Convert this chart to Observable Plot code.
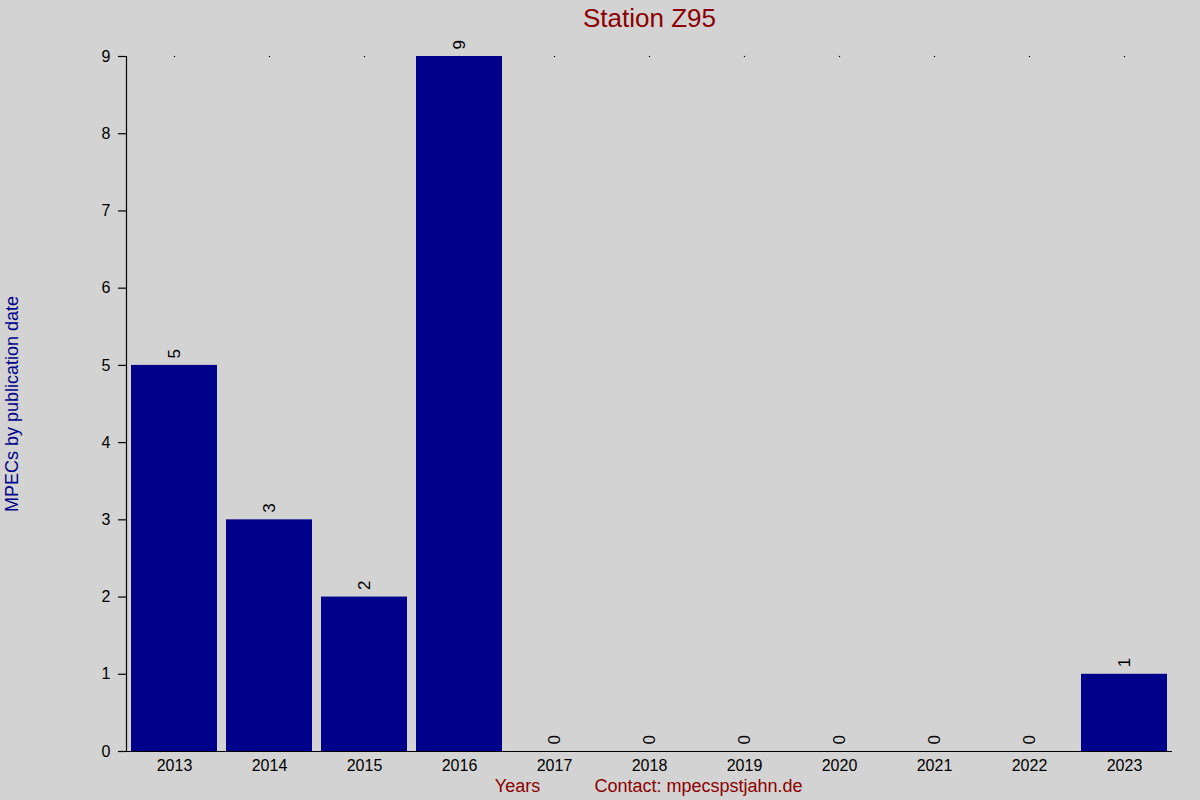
<!DOCTYPE html>
<html><head><meta charset="utf-8">
<script src="https://cdn.jsdelivr.net/npm/d3@7"></script>
<script src="https://cdn.jsdelivr.net/npm/@observablehq/plot@0.6"></script>
<style>body{margin:0;background:#d3d3d3;} svg{display:block}</style>
</head><body><div id="chart"></div><script>
const years = ["2013","2014","2015","2016","2017","2018","2019","2020","2021","2022","2023"];
const counts = [5,3,2,9,0,0,0,0,0,0,1];
const yTicks = [0,1,2,3,4,5,6,7,8,9];
const title = "Station Z95";
const yLabel = "MPECs by publication date";
const xLabel = "Years";
const contact = "Contact: mpecspstjahn.de";
const data = years.map((y, i) => ({year: y, count: counts[i]}));
const font = "'Liberation Sans', Arial, sans-serif";
const chart = Plot.plot({
  width: 1200, height: 800,
  marginLeft: 126, marginRight: 28, marginTop: 56, marginBottom: 49,
  style: {background: "#d3d3d3", fontFamily: font, fontSize: "16px", color: "black"},
  x: {domain: years, paddingInner: 0.1, paddingOuter: 0.05, label: null},
  y: {domain: [0, 9], label: null},
  marks: [
    Plot.dot(years, {x: d => d, y: () => 9, r: 0.7, fill: "black", stroke: null}),
    Plot.barY(data, {x: "year", y: "count", fill: "#00008b"}),
    Plot.frame({anchor: "left", stroke: "black", strokeWidth: 1.2}),
    Plot.ruleY([0], {stroke: "black", strokeWidth: 1.2}),
    Plot.axisX({tickSize: 0, tickPadding: 8, label: null, fontSize: 16}),
    Plot.axisY({ticks: yTicks, tickSize: 8, tickPadding: 8, label: null, fontSize: 16, strokeWidth: 1.2}),
    Plot.text(data, {x: "year", y: "count", text: d => String(d.count), rotate: -90, textAnchor: "start", lineAnchor: "middle", dy: -7, fontSize: 17, fill: "black"}),
    Plot.text([title], {frameAnchor: "top", dy: -38, fontSize: 26, fill: "#8b0000", lineAnchor: "middle"}),
    Plot.text([yLabel], {frameAnchor: "left", dx: -114, rotate: -90, fontSize: 18, fill: "#00008b", lineAnchor: "middle", textAnchor: "middle"}),
    Plot.text([xLabel], {frameAnchor: "bottom", dx: -132, dy: 35, fontSize: 18, fill: "#8b0000", lineAnchor: "middle"}),
    Plot.text([contact], {frameAnchor: "bottom", dx: 49, dy: 35, fontSize: 18, fill: "#8b0000", lineAnchor: "middle"})
  ]
});
document.getElementById("chart").appendChild(chart);
</script></body></html>
